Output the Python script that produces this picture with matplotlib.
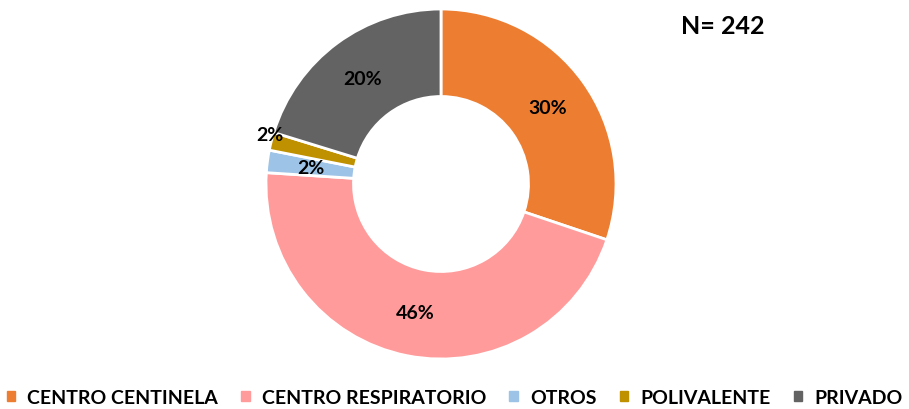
import matplotlib
matplotlib.use("Agg")
import matplotlib.pyplot as plt
import numpy as np

categorias = ["CENTRO CENTINELA", "CENTRO RESPIRATORIO", "OTROS", "POLIVALENTE", "PRIVADO"]
valores = [73, 111, 5, 4, 49]
colores = ["#ED7D31", "#FF9B9B", "#9DC3E6", "#BF9000", "#636363"]

plt.rcParams['font.family'] = ['Lato', 'DejaVu Sans']

fig = plt.figure(figsize=(9.09, 4.10), dpi=100)
ax = fig.add_axes([266/909, 50/410, 350/909, 350/410])

wedges, _ = ax.pie(valores, colors=colores, startangle=90, counterclock=False,
                   wedgeprops=dict(width=0.5, edgecolor="white", linewidth=2))
ax.set_xlim(-1, 1)
ax.set_ylim(-1, 1)
ax.set_aspect("equal")

total = sum(valores)
for i, w in enumerate(wedges):
    ang = np.deg2rad((w.theta1 + w.theta2) / 2)
    r = 0.75
    if categorias[i] == "POLIVALENTE":
        # etiqueta fuera del anillo, un poco arriba
        r = 1.02
        ang = ang - np.deg2rad(2)
    pct = round(valores[i] / total * 100)
    ax.text(r * np.cos(ang), r * np.sin(ang), f"{pct}%", ha="center", va="center",
            fontsize=14, fontweight="bold", color="black")

fig.text(723/909, 1 - 27/410, "N= 242", ha="center", va="center",
         fontsize=18, fontweight="bold")

handles = [plt.Rectangle((0, 0), 1, 1, color=c) for c in colores]
fig.legend(handles, categorias, loc="lower center", ncol=5, frameon=False,
           bbox_to_anchor=(0.5, -0.035), handlelength=0.45, handleheight=0.45,
           handletextpad=0.6, columnspacing=1.2,
           prop=dict(size=14, weight="bold"))

fig.savefig("out.png", dpi=100)
